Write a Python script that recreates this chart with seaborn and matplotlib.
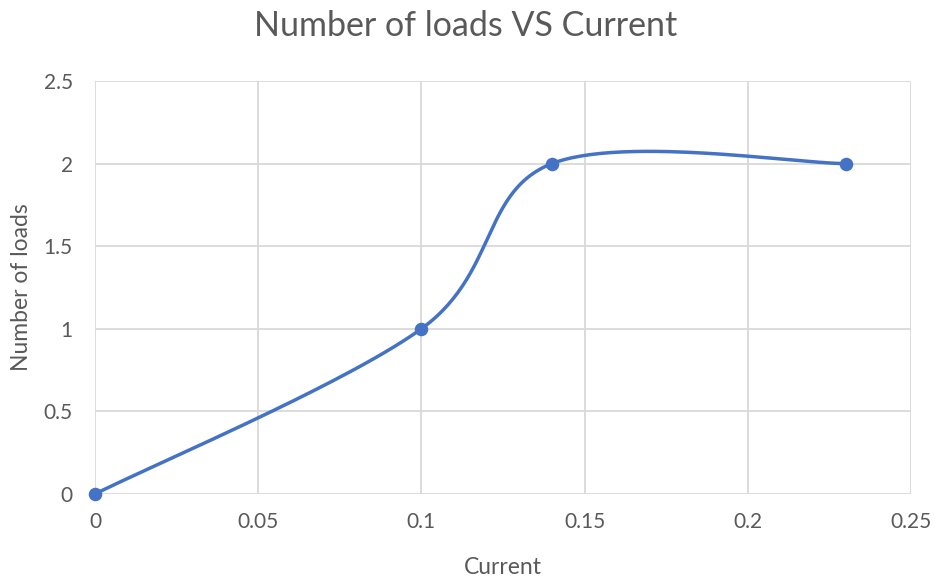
import numpy as np
import pandas as pd
import matplotlib
matplotlib.use("Agg")
import matplotlib.pyplot as plt
import seaborn as sns

# Measured points
current = [0.0, 0.10, 0.14, 0.23]
loads = [0, 1, 2, 2]
x_ticks = [0, 0.05, 0.1, 0.15, 0.2, 0.25]
x_tick_labels = ["0", "0.05", "0.1", "0.15", "0.2", "0.25"]
y_ticks = [0, 0.5, 1, 1.5, 2, 2.5]
y_tick_labels = ["0", "0.5", "1", "1.5", "2", "2.5"]

TEXT = "#595959"
GRID = "#D9D9D9"
BLUE = "#4472C4"


def smooth_path(xs, ys, steps=60):
    """Cardinal Bezier smoothing through the given points (spreadsheet-style smooth line)."""
    p = np.column_stack([xs, ys]).astype(float)
    ext = np.vstack([p[0], p, p[-1]])
    out = []
    t = np.linspace(0, 1, steps)[:, None]
    for i in range(len(p) - 1):
        p0, p1, p2, p3 = ext[i], ext[i + 1], ext[i + 2], ext[i + 3]
        c1 = p1 + (p2 - p0) / 6.0
        c2 = p2 - (p3 - p1) / 6.0
        seg = ((1 - t) ** 3) * p1 + 3 * ((1 - t) ** 2) * t * c1 + 3 * (1 - t) * t ** 2 * c2 + t ** 3 * p2
        out.append(seg if i == 0 else seg[1:])
    curve = np.vstack(out)
    return curve[:, 0], curve[:, 1]


sns.set_theme(style="white")
plt.rcParams["font.family"] = ["Lato", "DejaVu Sans"]

fig = plt.figure(figsize=(9.37, 5.77), dpi=100)
ax = fig.add_axes([95 / 937, 1 - 494 / 577, (911 - 95) / 937, (494 - 81) / 577])

sx, sy = smooth_path(current, loads)
curve_df = pd.DataFrame({"Current": sx, "Loads": sy})
points_df = pd.DataFrame({"Current": current, "Loads": loads})

sns.lineplot(data=curve_df, x="Current", y="Loads", sort=False, ax=ax,
             color=BLUE, linewidth=2.5, zorder=3)
sns.scatterplot(data=points_df, x="Current", y="Loads", ax=ax,
                color=BLUE, s=95, edgecolor=BLUE, linewidth=0, zorder=4, clip_on=False)

ax.set_xlim(0, 0.25)
ax.set_ylim(0, 2.5)
ax.set_xticks(x_ticks)
ax.set_xticklabels(x_tick_labels)
ax.set_yticks(y_ticks)
ax.set_yticklabels(y_tick_labels)
ax.grid(True, color=GRID, linewidth=1.3)
ax.set_axisbelow(True)
for s in ax.spines.values():
    s.set_visible(False)
ax.tick_params(axis="both", length=0, labelsize=15, colors=TEXT)
ax.tick_params(axis="y", pad=16)
ax.tick_params(axis="x", pad=13)

ax.set_xlabel("Current", fontsize=16.5, color=TEXT, va="center")
ax.set_ylabel("Number of loads", fontsize=16.5, color=TEXT, va="center")
ax.xaxis.set_label_coords(0.5, -0.177)
ax.yaxis.set_label_coords(-0.0895, 0.5)
fig.suptitle("Number of loads VS Current", fontsize=24.5, color=TEXT, x=0.497, y=0.982)

fig.savefig("out.png", dpi=100, facecolor="white")
